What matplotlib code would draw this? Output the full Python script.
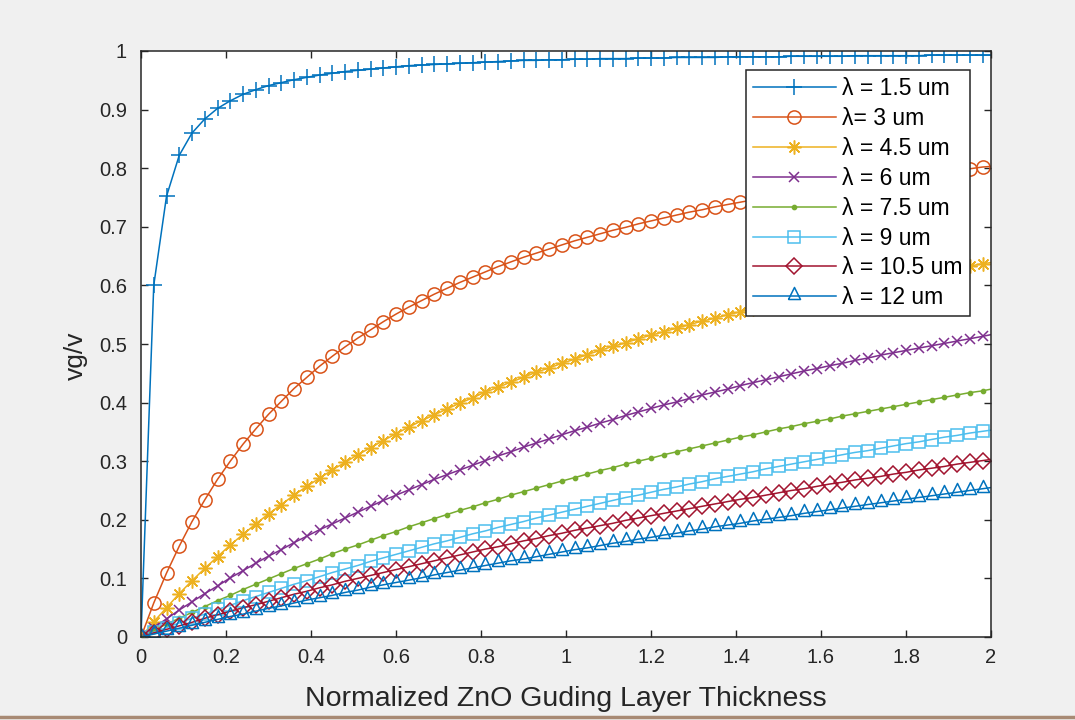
import matplotlib
matplotlib.use('Agg')
import matplotlib.pyplot as plt
from matplotlib.lines import Line2D

# normalized guiding layer thickness (markers every 0.03, line runs to 2)
thickness = [
    0.00, 0.03, 0.06, 0.09, 0.12, 0.15, 0.18, 0.21, 0.24, 0.27,
    0.30, 0.33, 0.36, 0.39, 0.42, 0.45, 0.48, 0.51, 0.54, 0.57,
    0.60, 0.63, 0.66, 0.69, 0.72, 0.75, 0.78, 0.81, 0.84, 0.87,
    0.90, 0.93, 0.96, 0.99, 1.02, 1.05, 1.08, 1.11, 1.14, 1.17,
    1.20, 1.23, 1.26, 1.29, 1.32, 1.35, 1.38, 1.41, 1.44, 1.47,
    1.50, 1.53, 1.56, 1.59, 1.62, 1.65, 1.68, 1.71, 1.74, 1.77,
    1.80, 1.83, 1.86, 1.89, 1.92, 1.95, 1.98,
    2.00,
]

vg_15 = [
    0, .600, .752, .822, .860, .884, .902, .915, .926, .934,
    .941, .946, .951, .955, .959, .962, .965, .967, .969, .971,
    .973, .975, .976, .977, .978, .979, .980, .981, .982, .983,
    .984, .984, .985, .985, .986, .986, .987, .987, .987, .988,
    .988, .988, .989, .989, .989, .989, .990, .990, .990, .990,
    .990, .991, .991, .991, .991, .991, .992, .992, .992, .992,
    .992, .992, .993, .993, .993, .993, .993,
    .993,
]
vg_3 = [
    0, .058, .109, .155, .197, .234, .269, .300, .329, .355,
    .380, .402, .424, .443, .462, .479, .495, .510, .524, .538,
    .551, .563, .574, .585, .595, .605, .614, .623, .632, .640,
    .648, .655, .662, .669, .676, .682, .688, .694, .699, .705,
    .710, .715, .720, .725, .729, .734, .738, .742, .746, .750,
    .754, .757, .761, .764, .768, .771, .774, .777, .780, .783,
    .786, .789, .792, .794, .797, .799, .802,
    .803,
]
vg_45 = [
    0, .026, .050, .074, .096, .117, .137, .157, .175, .193,
    .210, .226, .242, .257, .271, .285, .298, .311, .323, .335,
    .347, .358, .369, .379, .389, .399, .408, .418, .426, .435,
    .443, .452, .459, .467, .474, .482, .489, .496, .502, .509,
    .515, .521, .527, .533, .539, .544, .550, .555, .560, .565,
    .570, .575, .580, .585, .589, .594, .598, .602, .606, .610,
    .614, .618, .622, .626, .630, .633, .637,
    .639,
]
vg_6 = [
    0, .016, .031, .046, .060, .074, .087, .101, .113, .126,
    .138, .149, .161, .172, .183, .193, .203, .213, .223, .233,
    .242, .251, .260, .269, .277, .285, .293, .301, .309, .316,
    .324, .331, .338, .345, .352, .358, .365, .371, .378, .384,
    .390, .396, .401, .407, .413, .418, .423, .429, .434, .439,
    .444, .449, .454, .458, .463, .467, .472, .476, .481, .485,
    .489, .493, .497, .501, .505, .509, .513,
    .516,
]
vg_75 = [
    0, .011, .022, .032, .042, .052, .062, .071, .081, .090,
    .099, .108, .117, .125, .133, .142, .150, .157, .165, .173,
    .180, .188, .195, .202, .209, .216, .222, .229, .235, .242,
    .248, .254, .260, .266, .272, .278, .284, .289, .295, .300,
    .305, .311, .316, .321, .326, .331, .336, .341, .345, .350,
    .355, .359, .364, .368, .372, .377, .381, .385, .389, .393,
    .397, .401, .405, .409, .413, .417, .420,
    .423,
]
vg_9 = [
    0, .008, .016, .024, .032, .039, .047, .054, .062, .069,
    .076, .083, .090, .096, .103, .110, .116, .122, .129, .135,
    .141, .147, .153, .159, .164, .170, .176, .181, .187, .192,
    .197, .203, .208, .213, .218, .223, .228, .233, .238, .242,
    .247, .252, .256, .261, .265, .270, .274, .278, .282, .287,
    .291, .295, .299, .303, .307, .311, .315, .318, .322, .326,
    .330, .333, .337, .341, .344, .348, .351,
    .353,
]
vg_105 = [
    0, .007, .013, .019, .025, .032, .038, .044, .050, .055,
    .061, .067, .073, .078, .084, .089, .095, .100, .105, .110,
    .115, .120, .125, .130, .135, .140, .145, .150, .154, .159,
    .164, .168, .173, .177, .182, .186, .190, .194, .199, .203,
    .207, .211, .215, .219, .223, .227, .231, .235, .238, .242,
    .246, .250, .253, .257, .261, .264, .268, .271, .274, .278,
    .281, .285, .288, .291, .295, .298, .301,
    .303,
]
vg_12 = [
    0, .005, .010, .015, .020, .025, .030, .035, .039, .044,
    .049, .053, .058, .063, .067, .071, .076, .080, .085, .089,
    .093, .097, .101, .106, .110, .114, .118, .122, .126, .130,
    .133, .137, .141, .145, .149, .152, .156, .160, .163, .167,
    .170, .174, .177, .181, .184, .188, .191, .194, .198, .201,
    .204, .207, .211, .214, .217, .220, .223, .226, .229, .232,
    .235, .238, .241, .244, .247, .250, .253,
    .255,
]

labels = ['\u03bb = 1.5 um', '\u03bb= 3 um', '\u03bb = 4.5 um', '\u03bb = 6 um',
          '\u03bb = 7.5 um', '\u03bb = 9 um', '\u03bb = 10.5 um', '\u03bb = 12 um']
series = [vg_15, vg_3, vg_45, vg_6, vg_75, vg_9, vg_105, vg_12]

# MATLAB default colour order
colors = ['#0072BD', '#D95319', '#EDB120', '#7E2F8E',
          '#77AC30', '#4DBEEE', '#A2142F', '#0072BD']
# triangle sits above its data point like the MATLAB one
tri = [(-1.0, -0.5), (1.0, -0.5), (0.0, 1.5), (-1.0, -0.5)]
markers = ['+', 'o', (8, 2, 0), 'x', '.', 's', 'D', tri]
msizes = [11, 9.5, 10, 7.5, 6, 8.5, 8.5, 13]

plt.rcParams['font.family'] = ['Liberation Sans', 'DejaVu Sans']

fig = plt.figure(figsize=(10.75, 7.2), dpi=100, facecolor='#f0f0f0')
ax = fig.add_axes([141 / 1075, 83 / 720, 850 / 1075, 586 / 720])
ax.set_facecolor('white')

n_mark = len(thickness) - 1
for vals, lab, c, m, ms in zip(series, labels, colors, markers, msizes):
    filled = m == '.'
    ax.plot(thickness, vals, color=c, lw=1.1, marker=m, ms=ms,
            mew=1.1, mfc=c if filled else 'none', mec=c,
            markevery=slice(0, n_mark), label=lab)

ax.set_xlim(0, 2)
ax.set_ylim(0, 1)
ax.set_xticks([0, 0.2, 0.4, 0.6, 0.8, 1, 1.2, 1.4, 1.6, 1.8, 2])
ax.set_xticklabels(['0', '0.2', '0.4', '0.6', '0.8', '1', '1.2', '1.4', '1.6', '1.8', '2'])
ax.set_yticks([0, 0.1, 0.2, 0.3, 0.4, 0.5, 0.6, 0.7, 0.8, 0.9, 1])
ax.set_yticklabels(['0', '0.1', '0.2', '0.3', '0.4', '0.5', '0.6', '0.7', '0.8', '0.9', '1'])

ax.tick_params(direction='in', top=True, right=True, length=5, width=1,
               color='#262626', labelcolor='#262626', labelsize=14.5)
ax.tick_params(axis='x', pad=8)
ax.tick_params(axis='y', pad=10)
for sp in ax.spines.values():
    sp.set_color('#262626')
    sp.set_linewidth(1.1)

ax.set_xlabel('Normalized ZnO Guding Layer Thickness', fontsize=20.5, color='#262626')
ax.set_ylabel('vg/v', fontsize=19, color='#262626')
ax.xaxis.set_label_coords(0.5, -0.083)
ax.yaxis.set_label_coords(-0.063, 0.48)

leg = ax.legend(loc='upper right', bbox_to_anchor=(0.975, 0.967), borderaxespad=0,
                fontsize=16.5, frameon=True, fancybox=False, framealpha=1,
                handlelength=3.6, handletextpad=0.3, labelspacing=0.3,
                borderpad=0.3)
leg.get_frame().set_edgecolor('#262626')
leg.get_frame().set_linewidth(1.1)

# thin brown strip along the bottom of the screenshot
fig.add_artist(Line2D([0, 1], [0.004, 0.004], transform=fig.transFigure,
                      color='#a88a74', lw=2.5))

fig.savefig('out.png', dpi=100, facecolor=fig.get_facecolor())
